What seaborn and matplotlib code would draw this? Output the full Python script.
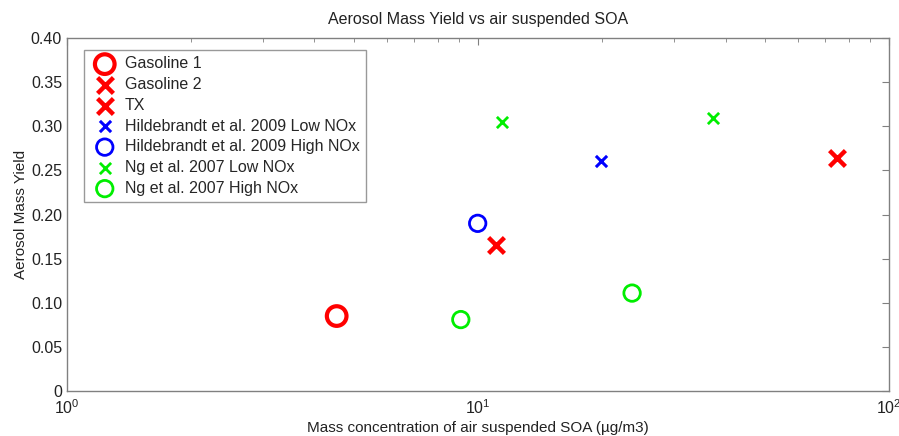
import matplotlib
matplotlib.use("Agg")
from matplotlib import pyplot as plt
from matplotlib import ticker
import seaborn as sns
import numpy as np

# values
gas1_x = [4.53]
gas1_y = [0.085]
gas2_x = [74.6]
gas2_y = [0.264]
tx_x = [11.07]
tx_y = [0.166]
hild_low_x = [19.9]
hild_low_y = [0.261]
hild_high_x = [9.98]
hild_high_y = [0.190]
ng_low_x = [11.46, 37.2]
ng_low_y = [0.305, 0.309]
ng_high_x = [9.08, 23.7]
ng_high_y = [0.081, 0.111]

sns.set_style("white")
plt.rcParams['font.family'] = ['Liberation Sans', 'DejaVu Sans']
plt.rcParams['font.size'] = 11

fig = plt.figure(figsize=(8.99, 4.36), dpi=100)
ax = fig.add_axes([0.0745, 0.103, 0.9145, 0.81])

red = '#ff0000'
blue = '#0000ff'
green = '#00ee00'

sns.scatterplot(x=gas1_x, y=gas1_y, marker='o', s=200, facecolors='none',
                edgecolor=red, linewidth=3, label='Gasoline 1', ax=ax)
sns.scatterplot(x=gas2_x, y=gas2_y, marker='x', s=130, color=red,
                linewidth=3.2, label='Gasoline 2', ax=ax)
sns.scatterplot(x=tx_x, y=tx_y, marker='x', s=130, color=red,
                linewidth=3.2, label='TX', ax=ax)
sns.scatterplot(x=hild_low_x, y=hild_low_y, marker='x', s=65, color=blue,
                linewidth=2.2, label='Hildebrandt et al. 2009 Low NOx', ax=ax)
sns.scatterplot(x=hild_high_x, y=hild_high_y, marker='o', s=140, facecolors='none',
                edgecolor=blue, linewidth=2, label='Hildebrandt et al. 2009 High NOx', ax=ax)
sns.scatterplot(x=ng_low_x, y=ng_low_y, marker='x', s=65, color=green,
                linewidth=2, label='Ng et al. 2007 Low NOx', ax=ax)
sns.scatterplot(x=ng_high_x, y=ng_high_y, marker='o', s=140, facecolors='none',
                edgecolor=green, linewidth=2, label='Ng et al. 2007 High NOx', ax=ax)

ax.set_xscale('log')
ax.set_xlim(1, 100)
ax.set_ylim(0, 0.40)
ax.set_yticks(np.arange(0, 0.41, 0.05))
ax.yaxis.set_major_formatter(ticker.FuncFormatter(lambda v, p: '0' if v == 0 else '%.2f' % v))
ax.xaxis.set_major_locator(ticker.LogLocator(base=10, numticks=5))
ax.xaxis.set_minor_locator(ticker.LogLocator(base=10, subs=np.arange(2, 10), numticks=20))
ax.xaxis.set_minor_formatter(ticker.NullFormatter())

for s in ax.spines.values():
    s.set_visible(True)
    s.set_color('#808080')
    s.set_linewidth(1)
ax.tick_params(which='both', direction='in', top=True, right=True,
               colors='#808080', labelcolor='#222222', labelsize=11.5)
ax.tick_params(which='major', length=5)
ax.tick_params(which='minor', length=3)
ax.tick_params(axis='x', pad=5)

ax.set_title('Aerosol Mass Yield vs air suspended SOA', fontsize=11.5, color='#222222', pad=10)
ax.set_xlabel('Mass concentration of air suspended SOA (\u00b5g/m3)', fontsize=11,
              color='#222222', labelpad=3)
ax.set_ylabel('Aerosol Mass Yield', fontsize=11, color='#222222', labelpad=2)

leg = ax.legend(loc='upper left', bbox_to_anchor=(0.0207, 0.966), borderaxespad=0,
                fancybox=False, edgecolor='#808080', fontsize=11.5, handletextpad=0.35,
                labelspacing=0.36, borderpad=0.4, scatterpoints=1, handlelength=1.8)
leg.get_frame().set_linewidth(1)

fig.savefig('out.png', dpi=100)
